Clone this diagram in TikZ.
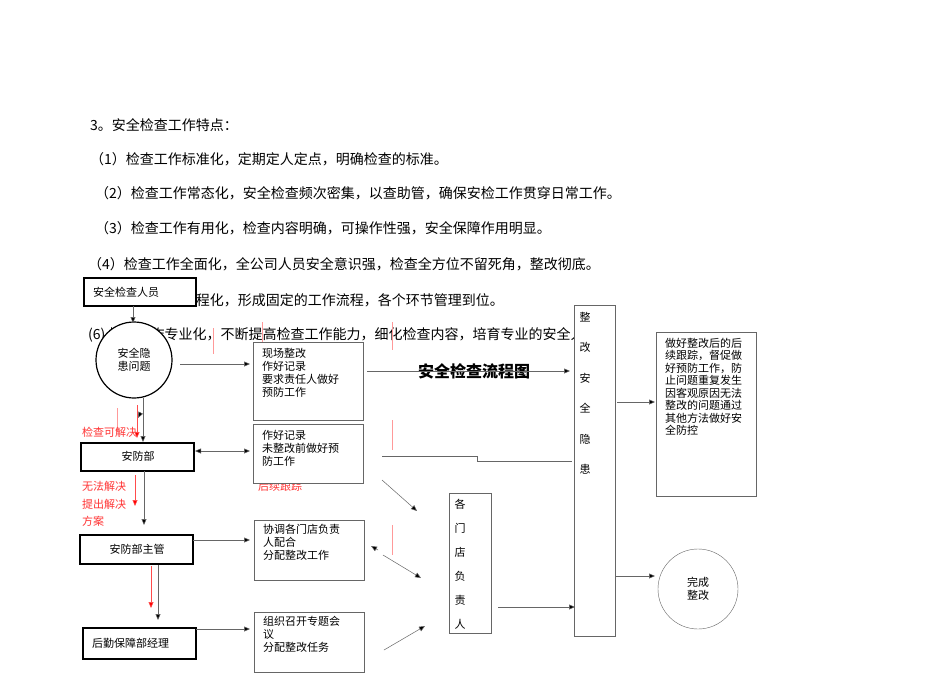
\documentclass[tikz,border=0pt]{standalone}
\usepackage{fontspec}
\setmainfont{Noto Sans CJK SC}
\usetikzlibrary{arrows.meta}
\begin{document}
\begin{tikzpicture}[x=1pt,y=-1pt,
  box/.style={draw=black!60,fill=white,line width=0.6pt,inner sep=0pt},
  bbox/.style={draw=black,fill=white,line width=1.2pt},
  con/.style={draw=black!60,line width=0.5pt,-{Triangle[length=6pt,width=5pt,fill=black]}},
  plain/.style={draw=black!60,line width=0.5pt},
  rcon/.style={draw=red!70,line width=0.5pt,-{Triangle[length=6pt,width=5pt,fill=red]}},
  rmark/.style={draw=red!40,line width=0.5pt},
  para/.style={anchor=west,font=\fontsize{14}{16}\selectfont,inner sep=0pt},
  lbl/.style={font=\fontsize{11}{13}\selectfont,align=left,anchor=north west,inner sep=0pt},
  rtxt/.style={font=\fontsize{11}{13}\selectfont,text=red!80,anchor=west,inner sep=0pt}]
\useasboundingbox (0,0) rectangle (950,672);
\fill[white] (0,0) rectangle (950,672);
% paragraphs
\node[para] (p0) at (90,125) {3。安全检查工作特点：};
\node[para] (p1) at (90,159) {（1）检查工作标准化，定期定人定点，明确检查的标准。};
\node[para] (p2) at (95,193) {（2）检查工作常态化，安全检查频次密集，以查助管，确保安检工作贯穿日常工作。};
\node[para] (p3) at (95,228) {（3）检查工作有用化，检查内容明确，可操作性强，安全保障作用明显。};
\node[para] (p4) at (88,264) {（4）检查工作全面化，全公司人员安全意识强，检查全方位不留死角，整改彻底。};
\node[para] (p5) at (90,300) {（5）检查工作流程化，形成固定的工作流程，各个环节管理到位。};
\node[para] (p6) at (88,335) {(6) 检查工作专业化，不断提高检查工作能力，细化检查内容，培育专业的安全人才.};
% red marks
\draw[rmark] (213,328)--(213,354) (392,322)--(392,350) (392,420)--(392,450) (392,525)--(392,555) (187,538)--(187,562) (117,408)--(117,432) (262,322)--(262,345);
\node[rtxt] (r5) at (258,486) {后续跟踪};
% title
\node[font=\bfseries\fontsize{16}{18}\selectfont,inner sep=0pt] (title) at (474,371) {安全检查流程图};
% left column
\draw[bbox] (84,278) rectangle (196,306); \node[lbl,anchor=west] (a) at (93,292) {安全检查人员};
\coordinate (aS) at (133,306);
\node[draw=black,line width=1.2pt,fill=white,circle,minimum size=76pt,inner sep=0pt,font=\fontsize{11}{13}\selectfont,align=center] (c) at (134,360) {安全隐\\患问题};
\draw[bbox] (81,443) rectangle (194,471); \node[lbl,anchor=center] (d) at (138,456) {安防部};
\draw[bbox] (80,535) rectangle (193,564); \node[lbl,anchor=center] (e) at (137,549) {安防部主管};
\draw[bbox] (83,628) rectangle (196,659); \node[lbl,anchor=west] (f) at (92,643) {后勤保障部经理};
% middle boxes
\draw[box] (253,342) rectangle (363,420); \node[lbl] (b1) at (262,348) {现场整改\\作好记录\\要求责任人做好\\预防工作};
\draw[box] (253,424) rectangle (363,483); \node[lbl] (b2) at (262,430) {作好记录\\未整改前做好预\\防工作};
\draw[box] (254,520) rectangle (364,580); \node[lbl] (b3) at (263,524) {协调各门店负责\\人配合\\分配整改工作};
\draw[box] (254,612) rectangle (364,672); \node[lbl] (b4) at (263,616) {组织召开专题会\\议\\分配整改任务};
\draw[box] (449,493) rectangle (491,633);
\node[lbl,align=center,anchor=north,font=\fontsize{11}{24}\selectfont] (g) at (460,499) {各\\门\\店\\负\\责\\人};
\draw[box] (574,305) rectangle (615,636);
\node[lbl,align=center,anchor=north,font=\fontsize{11}{30.5}\selectfont] (h) at (585,312) {整\\改\\安\\全\\隐\\患};
\draw[box] (656,332) rectangle (756,496);
\node[lbl,font=\fontsize{11}{12.5}\selectfont] (k) at (665,338) {做好整改后的后\\续跟踪，督促做\\好预防工作，防\\止问题重复发生\\因客观原因无法\\整改的问题通过\\其他方法做好安\\全防控};
\node[draw=black!60,circle,minimum size=80pt,inner sep=0pt,font=\fontsize{11}{13}\selectfont,align=center] (m) at (698,589) {完成\\整改};
% red labels
\node[rtxt] (r1) at (82,432) {检查可解决};
\node[rtxt] (r2) at (82,486) {无法解决};
\node[rtxt] (r3) at (82,504) {提出解决};
\node[rtxt] (r4) at (82,521) {方案};
\draw[rcon] (137,405)--(137,438);
\draw[rcon] (135,475)--(135,506);
\draw[rcon] (151,566)--(151,608);
% connectors
\draw[con] (aS)--(133,323);
\draw[con] (180,364)--(250,364);
\draw[con] (143,398)--(143,442);
\draw[con] (140,414)--(138,418);
\draw[con,{Triangle[length=6pt,width=5pt,fill=black]}-{Triangle[length=6pt,width=5pt,fill=black]}] (195,451)--(250,451);
\draw[con] (144,471)--(144,525);
\draw[con] (193,540)--(250,540);
\draw[con] (158,565)--(158,620);
\draw[con] (196,629)--(250,629);
\draw[con] (367,371)--(570,371);
\draw[plain] (382,456)--(477,456)--(477,461)--(572,461);
\draw[con] (382,480)--(417,511);
\draw[con] (383,555)--(421,578);
\draw[con] (378,550)--(371,546);
\draw[con] (384,650)--(425,626);
\draw[con] (498,607)--(575,607);
\draw[con] (617,402)--(655,402);
\draw[con] (615,576)--(655,576);
\end{tikzpicture}
\end{document}
